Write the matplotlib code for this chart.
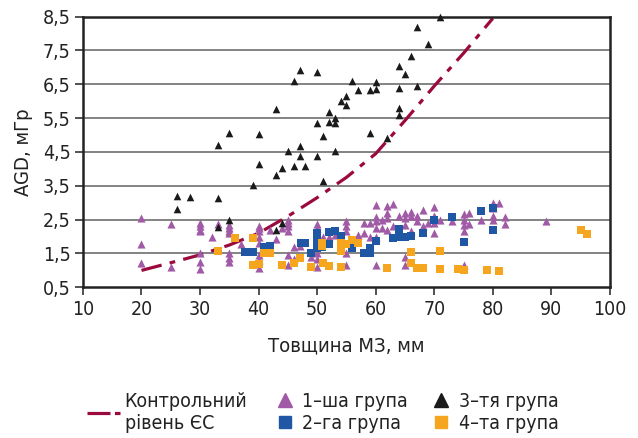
import matplotlib
matplotlib.use("Agg")
import matplotlib.pyplot as plt
from matplotlib.lines import Line2D
from matplotlib.ticker import FuncFormatter

plt.rcParams['font.family'] = ['DejaVu Sans']
plt.rcParams['font.stretch'] = 'condensed'

# control level (EC)
ctrl_x = [20, 26.6, 30, 35, 40, 45, 50, 55, 60, 65, 70, 75, 80]
ctrl_y = [1.0, 1.3, 1.46, 1.75, 2.1, 2.6, 3.15, 3.75, 4.45, 5.43, 6.45, 7.42, 8.45]

# 1st group
g1_x = [20, 20, 20, 25, 25, 30, 30, 30, 30, 30, 30, 30, 32, 33,
        35, 35, 35, 35, 35, 35, 35, 37, 40, 40, 40, 40, 40, 40, 40, 40,
        42, 43, 44, 45, 45, 45, 45, 45, 45, 46, 46, 47, 49,
        50, 50, 50, 50, 50, 50, 51, 52, 53, 55, 55, 55, 55, 55,
        57, 58, 58, 59, 59, 60, 60, 60, 60, 60, 60, 61, 61,
        62, 62, 62, 62, 63, 63, 64, 65, 65, 65, 65, 65, 66, 66, 66,
        67, 67, 68, 68, 69, 70, 70, 70, 70, 71, 73, 75, 75, 75, 75, 75,
        76, 76, 78, 80, 80, 80, 80, 81, 82, 82, 89]
g1_y = [2.55, 1.77, 1.21, 2.37, 1.11, 2.4, 2.3, 2.2, 2.15, 1.5, 1.24, 1.03, 1.98, 2.37,
        2.35, 2.25, 2.15, 2.1, 1.5, 1.38, 1.25, 1.77, 2.3, 2.25, 2.15, 2.0, 1.82, 1.45, 1.3, 1.06,
        2.2, 1.92, 2.25, 2.5, 2.4, 2.3, 2.15, 1.45, 1.16, 1.7, 1.33, 1.72, 1.4,
        2.37, 2.25, 2.1, 1.5, 1.35, 1.1, 2.0, 2.0, 2.05, 2.45, 2.3, 2.15, 1.5, 1.16,
        2.05, 2.4, 2.1, 2.4, 2.0, 2.94, 2.59, 2.45, 2.25, 2.0, 1.16, 2.5, 2.25,
        2.9, 2.7, 2.55, 2.2, 2.96, 2.3, 2.6, 2.7, 2.55, 2.35, 1.4, 1.16, 2.74, 2.6, 2.15,
        2.6, 2.45, 2.78, 2.3, 2.4, 2.88, 2.62, 2.4, 2.1, 2.5, 2.45, 2.67, 2.5, 2.35, 2.15, 1.16,
        2.7, 2.37, 2.5, 3.0, 2.85, 2.6, 2.5, 3.0, 2.59, 2.37, 2.46]

# 2nd group
g2_x = [37.7, 39, 41, 42, 47.3, 48, 49, 50, 50, 50, 50.8, 52, 53, 54, 52,
        56, 58, 59, 59, 60, 63, 64, 64, 65, 66, 68, 70, 73, 75, 78, 80, 80]
g2_y = [1.55, 1.55, 1.7, 1.73, 1.82, 1.82, 1.52, 2.1, 1.87, 1.65, 1.7, 2.13, 2.15, 2.03, 1.77,
        1.65, 1.5, 1.65, 1.5, 1.88, 1.97, 2.22, 2.0, 2.0, 2.03, 2.1, 2.5, 2.59, 1.85, 2.77, 2.84, 2.2]

# 3rd group
g3_x = [26, 26, 28.2, 33, 33, 33, 35, 35, 39, 40, 40, 43, 43, 43, 44, 44, 45,
        46, 46, 47, 47, 47, 48, 50, 50, 50, 51, 51, 52, 52, 53, 53, 53,
        54, 55, 55, 56, 57, 59, 59, 60, 60, 62, 64, 64, 64, 64, 65, 66, 67, 67, 69, 71]
g3_y = [3.2, 2.81, 3.18, 3.13, 4.71, 2.27, 5.05, 2.49, 3.51, 5.03, 4.14, 5.77, 3.82, 2.2, 4.04, 2.41, 4.53,
        6.61, 4.1, 6.93, 4.68, 4.38, 4.1, 6.85, 5.35, 4.38, 4.96, 3.65, 5.68, 5.4, 5.5, 5.37, 4.54,
        6.0, 6.14, 5.9, 6.61, 6.32, 6.32, 5.07, 6.56, 6.36, 4.91, 7.05, 6.39, 5.8, 5.58, 6.81, 7.35, 8.18, 6.46, 7.7, 8.5]

# 4th group
g4_x = [33, 36, 39, 39, 40, 41, 42, 44, 46, 47, 49, 50.8, 50.8, 51, 52, 54, 55, 54, 54,
        56, 57, 62, 66, 66, 67, 68, 71, 71, 74, 75, 79, 81, 95, 96]
g4_y = [1.58, 1.97, 1.95, 1.16, 1.2, 1.5, 1.52, 1.16, 1.23, 1.38, 1.11, 1.82, 1.72, 1.21, 1.14, 1.8, 1.77, 1.58, 1.11,
        1.9, 1.8, 1.08, 1.55, 1.21, 1.06, 1.06, 1.58, 1.05, 1.05, 1.02, 1.0, 0.99, 2.2, 2.08]

x_ticks = [10, 20, 30, 40, 50, 60, 70, 80, 90, 100]
y_ticks = [0.5, 1.5, 2.5, 3.5, 4.5, 5.5, 6.5, 7.5, 8.5]

C_LINE = '#9b0a3e'
C_G1 = '#a05aa6'
C_G2 = '#1f57a5'
C_G3 = '#1a1a1a'
C_G4 = '#f6a51f'
DASH = (6.5, 2.6, 1.8, 2.6)

fig = plt.figure(figsize=(6.38, 4.38), dpi=100)
ax = fig.add_axes([0.130, 0.344, 0.826, 0.618])

for y in y_ticks[1:-1]:
    ax.axhline(y, color='#7a7a7a', linewidth=1.3, zorder=1)

ax.plot(ctrl_x, ctrl_y, color=C_LINE, linewidth=2.3, dashes=DASH, zorder=2)
ax.scatter(g1_x, g1_y, marker='^', s=34, color=C_G1, linewidths=0, zorder=3)
ax.scatter(g2_x, g2_y, marker='s', s=34, color=C_G2, linewidths=0, zorder=4)
ax.scatter(g4_x, g4_y, marker='s', s=34, color=C_G4, linewidths=0, zorder=5)
ax.scatter(g3_x, g3_y, marker='^', s=30, color=C_G3, linewidths=0, zorder=6, clip_on=False)

ax.set_xlim(10, 100)
ax.set_ylim(0.5, 8.5)
ax.set_xticks(x_ticks)
ax.set_yticks(y_ticks)
ax.yaxis.set_major_formatter(FuncFormatter(lambda v, p: f"{v:.1f}".replace('.', ',')))
ax.tick_params(axis='both', direction='out', length=6, width=1.2, color='#333333',
               labelsize=14, labelcolor='#222222', pad=3)
for s in ax.spines.values():
    s.set_linewidth(1.8)
    s.set_color('#222222')

ax.set_xlabel("Товщина МЗ, мм", fontsize=14.5, color='#222222', labelpad=13)
ax.set_ylabel("AGD, мГр", fontsize=14.5, color='#222222', labelpad=7)

h_line = Line2D([], [], color=C_LINE, linewidth=2.3, dashes=(7.2, 1.4, 2.2, 1.4))
leg1 = fig.legend([h_line], ["Контрольний\nрівень ЄС"], loc='center left',
                  bbox_to_anchor=(0.136, 0.058), frameon=False, fontsize=14,
                  handlelength=1.7, handletextpad=0.25, borderpad=0, borderaxespad=0)
for t in leg1.get_texts():
    t.set_color('#222222')

h1 = Line2D([], [], linestyle='none', marker='^', markersize=10, color=C_G1)
h2 = Line2D([], [], linestyle='none', marker='s', markersize=9, color=C_G2)
h3 = Line2D([], [], linestyle='none', marker='^', markersize=10, color=C_G3)
h4 = Line2D([], [], linestyle='none', marker='s', markersize=9, color=C_G4)
leg2 = fig.legend([h1, h2, h3, h4], ["1–ша група", "2–га група", "3–тя група", "4–та група"],
                  ncol=2, loc='center left', bbox_to_anchor=(0.431, 0.058), frameon=False,
                  fontsize=14, handlelength=1.0, handletextpad=0.4, columnspacing=1.2,
                  labelspacing=0.15, borderpad=0, borderaxespad=0)
for t in leg2.get_texts():
    t.set_color('#222222')

fig.savefig("out.png", dpi=100)
